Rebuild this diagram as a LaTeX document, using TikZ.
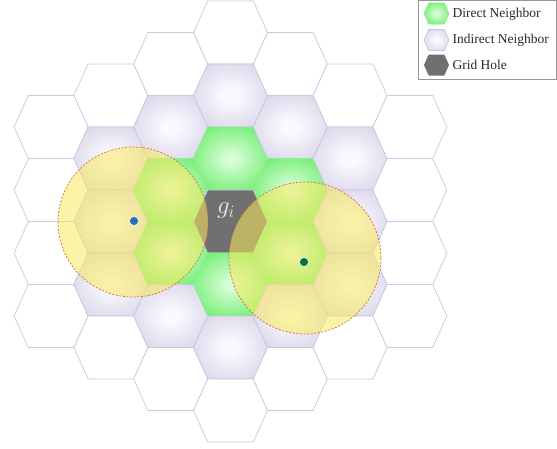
\documentclass[tikz,border=0pt]{standalone}
\usepackage{fontspec}
\setmainfont{Liberation Serif}
\usepackage{xcolor}
\definecolor{hexline}{RGB}{203,198,225}
\definecolor{dnin}{RGB}{215,253,215}
\definecolor{dnout}{RGB}{114,238,114}
\definecolor{dnline}{RGB}{145,234,145}
\definecolor{inin}{RGB}{250,249,253}
\definecolor{inout}{RGB}{211,206,230}
\definecolor{holegray}{RGB}{112,112,112}
\definecolor{zoneyellow}{RGB}{250,234,95}
\definecolor{zoneedge}{RGB}{210,110,70}
\definecolor{dotblue}{RGB}{45,110,180}
\definecolor{dotgreen}{RGB}{0,118,72}
\definecolor{legline}{RGB}{150,150,150}
\definecolor{legtext}{RGB}{40,40,40}
\usetikzlibrary{positioning}

\pgfdeclareradialshading{dnglow}{\pgfpoint{0bp}{0bp}}{color(0bp)=(dnin); color(3bp)=(dnin); color(30bp)=(dnout); color(50bp)=(dnout)}
\pgfdeclareradialshading{inglow}{\pgfpoint{0bp}{0bp}}{color(0bp)=(inin); color(5bp)=(inin); color(36bp)=(inout); color(50bp)=(inout)}

% one grid cell (centre x, centre y)
\newcommand{\hexcell}[2]{({#1-37},{#2}) -- ({#1-22.8},{#2-31.5}) -- ({#1+22.8},{#2-31.5}) -- ({#1+37},{#2}) -- ({#1+22.8},{#2+31.5}) -- ({#1-22.8},{#2+31.5}) -- cycle}
% small cell for the legend
\newcommand{\hexicon}[2]{({#1-12.5},{#2}) -- ({#1-7.8},{#2-10.5}) -- ({#1+7.8},{#2-10.5}) -- ({#1+12.5},{#2}) -- ({#1+7.8},{#2+10.5}) -- ({#1-7.8},{#2+10.5}) -- cycle}

\begin{document}
\begin{tikzpicture}[x=1pt, y=-1pt,
  outcell/.style={draw=hexline, line width=0.7pt, fill=white},
  incell/.style={draw=hexline, line width=0.7pt, shading=inglow},
  dncell/.style={draw=dnline, line width=0.7pt, shading=dnglow},
  holecell/.style={draw=hexline, line width=0.7pt, fill=holegray},
  zone/.style={draw=zoneedge, line width=0.7pt, dash pattern=on 2pt off 1.6pt,
               fill=zoneyellow, fill opacity=0.55},
  sensor/.style={circle, fill=#1, draw=white, line width=0.5pt, inner sep=0pt, minimum size=9pt},
  legtxt/.style={font=\fontsize{13.5}{16}\selectfont, text=legtext, anchor=west}
]
\useasboundingbox (0,0) rectangle (557,448);

% Grid: ring 0 = hole, ring 1 = direct, ring 2 = indirect, ring 3 = plain
\foreach \c in {-3,...,3}{
  \pgfmathtruncatemacro{\rtop}{6-abs(\c)}
  \pgfmathtruncatemacro{\rnext}{2-\rtop}
  \foreach \r in {-\rtop,\rnext,...,\rtop}{
    \pgfmathsetmacro{\hx}{230.5+59.8*\c}
    \pgfmathsetmacro{\hy}{221.5+31.5*\r}
    \pgfmathtruncatemacro{\ring}{max(abs(\c),(abs(\c)+abs(\r))/2)}
    \ifcase\ring
      \path[holecell] \hexcell{\hx}{\hy};
    \or
      \path[dncell] \hexcell{\hx}{\hy};
    \or
      \path[incell] \hexcell{\hx}{\hy};
    \else
      \path[outcell] \hexcell{\hx}{\hy};
    \fi
  }
}

% Sensing ranges
\path[zone] (133,222) circle[radius=75];
\path[zone] (305,258) circle[radius=76];

\node[sensor=dotblue] (sa) at (134,221) {};
\node[sensor=dotgreen] (sb) at (304,262) {};

\node[text=white!92!black, font=\fontsize{27}{27}\selectfont] (gi) at (226,211) {$g_i$};

% Legend
\draw[legline, line width=0.8pt] (418,0.6) rectangle (556,79);
\path[dncell] \hexicon{436.5}{13.5};
\path[incell] \hexicon{436.5}{40};
\path[holecell, draw=none] \hexicon{436.5}{65};
\node[legtxt] (ldn) at (449,14) {Direct Neighbor};
\node[legtxt] (lin) at (449,40) {Indirect Neighbor};
\node[legtxt] (lgh) at (449,65) {Grid Hole};
\end{tikzpicture}
\end{document}
